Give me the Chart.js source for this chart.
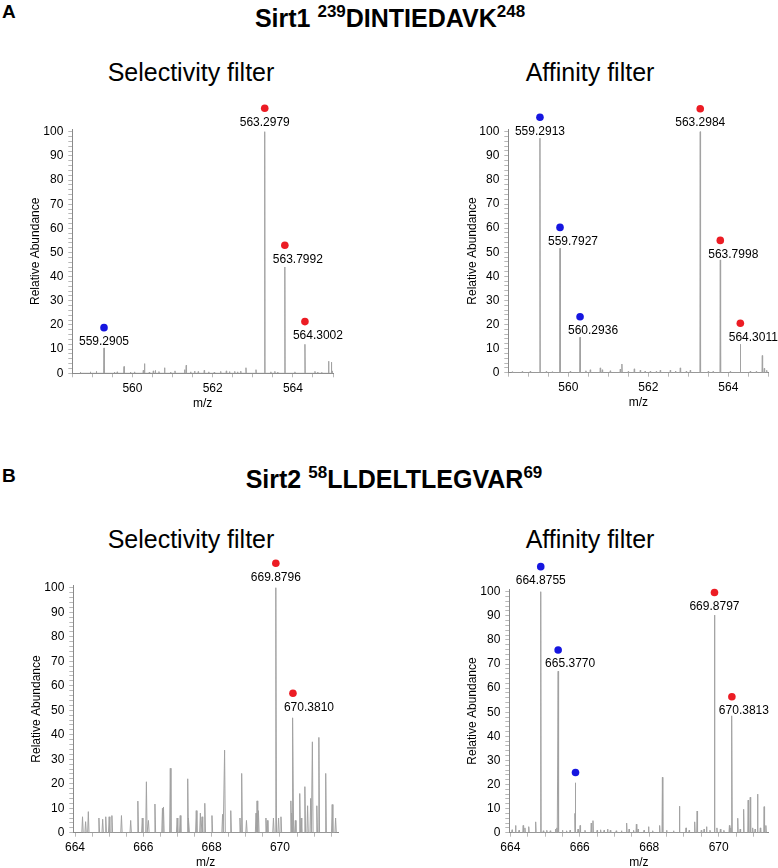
<!DOCTYPE html>
<html>
<head>
<meta charset="utf-8">
<script src="https://cdn.jsdelivr.net/npm/chart.js@4.4.0/dist/chart.umd.min.js"></script>
<style>
  html, body { margin:0; padding:0; background:#fff; overflow:hidden; }
  body { width:778px; height:868px; position:relative; font-family:"Liberation Sans", Arial, sans-serif; color:#000; }
  .txt { position:absolute; line-height:1; white-space:nowrap; }
  .letter { font-weight:bold; font-size:19px; }
  .peptide { font-weight:bold; font-size:25px; left:0; width:778px; text-align:center; }
  .peptide span { font-size:17px; position:relative; top:-10px; }
  .sub { font-size:25px; width:300px; text-align:center; }
  canvas { position:absolute; }
</style>
</head>
<body>
<div class="txt letter" style="left:2px;top:2px">A</div>
<div class="txt peptide" style="top:6px;left:1px">Sirt1 <span>239</span>DINTIEDAVK<span>248</span></div>
<div class="txt sub" style="left:41px;top:60px">Selectivity filter</div>
<div class="txt sub" style="left:440px;top:60px">Affinity filter</div>

<div class="txt letter" style="left:2px;top:466px">B</div>
<div class="txt peptide" style="top:467px;left:5px">Sirt2 <span>58</span>LLDELTLEGVAR<span>69</span></div>
<div class="txt sub" style="left:41px;top:527px">Selectivity filter</div>
<div class="txt sub" style="left:440px;top:527px">Affinity filter</div>

<canvas id="a-sel"></canvas>
<canvas id="a-aff"></canvas>
<canvas id="b-sel"></canvas>
<canvas id="b-aff"></canvas>

<script>
/* ── DATA ── */
// shared axis labels
const yLabels  = [0, 10, 20, 30, 40, 50, 60, 70, 80, 90, 100];
const xLabelsA = [560, 562, 564];
const xLabelsB = [664, 666, 668, 670];

// Sirt1 239DINTIEDAVK248 – selectivity filter
const sirt1SelMz = [558.70, 558.95, 559.10, 559.2905, 559.55, 559.62, 559.79, 559.95, 560.05, 560.27,
  560.30, 560.42, 560.52, 560.57, 560.66, 560.80, 560.95, 561.06, 561.30, 561.34, 561.45, 561.55,
  561.64, 561.79, 561.90, 562.04, 562.20, 562.34, 562.42, 562.55, 562.62, 562.70, 562.83, 563.08,
  563.2979, 563.45, 563.55, 563.62, 563.7992, 564.05, 564.3002, 564.55, 564.62, 564.72, 564.89,
  564.96, 564.99];
const sirt1SelInt = [0.4, 0.6, 0.8, 10.5, 0.5, 0.6, 2.8, 0.5, 0.6, 1.2,
  4.0, 0.5, 1.0, 1.2, 0.7, 2.3, 0.5, 1.0, 1.5, 3.3, 0.6, 0.9,
  0.7, 1.2, 0.6, 0.5, 0.8, 1.0, 0.7, 0.8, 0.6, 0.9, 2.3, 1.5,
  100, 0.6, 0.8, 0.5, 44.0, 0.6, 12.0, 0.8, 0.5, 0.4, 5.0,
  4.6, 1.0];
const sirt1SelTagMz    = [559.2905, 563.2979, 563.7992, 564.3002];
const sirt1SelTagY     = [18.9, 109.7, 53.0, 21.4];
const sirt1SelTagKind  = ['light', 'heavy', 'heavy', 'heavy'];
const sirt1SelTagLabel = ['559.2905', '563.2979', '563.7992', '564.3002'];

// Sirt1 239DINTIEDAVK248 – affinity filter
const sirt1AffMz = [558.60, 558.85, 559.05, 559.2913, 559.45, 559.60, 559.7927, 560.05, 560.2936, 560.44,
  560.55, 560.80, 560.85, 561.05, 561.30, 561.34, 561.50, 561.65, 561.80, 561.92, 562.05, 562.20,
  562.30, 562.55, 562.68, 562.80, 562.95, 563.05, 563.2984, 563.50, 563.62, 563.7998, 564.05,
  564.3011, 564.55, 564.70, 564.85, 564.90, 564.96];
const sirt1AffInt = [0.4, 0.5, 0.6, 97.3, 0.5, 0.4, 51.6, 0.6, 14.7, 0.8,
  1.2, 2.0, 1.2, 0.8, 1.5, 3.6, 0.5, 1.6, 1.0, 0.6, 0.6, 0.5,
  1.0, 1.0, 0.7, 2.0, 0.6, 1.0, 100, 0.6, 0.5, 46.8, 0.5,
  11.8, 0.6, 0.5, 7.1, 1.8, 1.0];
const sirt1AffTagMz    = [559.2913, 559.7927, 560.2936, 563.2984, 563.7998, 564.3011];
const sirt1AffTagY     = [106.0, 60.3, 23.2, 109.5, 54.9, 20.5];
const sirt1AffTagKind  = ['light', 'light', 'light', 'heavy', 'heavy', 'heavy'];
const sirt1AffTagLabel = ['559.2913', '559.7927', '560.2936', '563.2984', '563.7998', '564.3011'];

// Sirt2 58LLDELTLEGVAR69 – selectivity filter
const sirt2SelMz = [664.22, 664.31, 664.39, 664.70, 664.81, 664.90, 665.00, 665.08, 665.36, 665.63,
  665.84, 665.97, 666.09, 666.15, 666.34, 666.56, 666.59, 666.79, 666.99, 667.08, 667.30, 667.33,
  667.55, 667.67, 667.72, 667.80, 668.01, 668.32, 668.38, 668.56, 668.83, 668.88, 669.02, 669.30,
  669.33, 669.37, 669.59, 669.63, 669.81, 669.8796, 669.96, 670.03, 670.32, 670.35, 670.3810,
  670.45, 670.58, 670.62, 670.73, 670.81, 670.90, 670.95, 671.08, 671.14, 671.34, 671.53, 671.63];
const sirt2SelInt = [6.5, 4.5, 8.6, 6.0, 5.5, 6.5, 6.5, 7.0, 7.0, 5.0,
  12.9, 6.0, 20.8, 5.0, 11.7, 10.0, 10.5, 26.3, 6.0, 7.0, 22.0, 6.0,
  9.0, 8.0, 6.5, 12.0, 7.0, 7.5, 33.7, 9.0, 6.0, 24.2, 5.0, 8.0,
  13.0, 9.0, 6.0, 5.0, 6.0, 100, 6.0, 6.5, 13.0, 8.0, 46.9,
  5.0, 16.0, 6.0, 18.8, 11.0, 14.0, 37.1, 11.0, 38.9, 24.2, 11.5, 6.0];
const sirt2SelTagMz    = [669.8796, 670.3810];
const sirt2SelTagY     = [110.0, 56.9];
const sirt2SelTagKind  = ['heavy', 'heavy'];
const sirt2SelTagLabel = ['669.8796', '670.3810'];

// Sirt2 58LLDELTLEGVAR69 – affinity filter
const sirt2AffMz = [664.05, 664.15, 664.25, 664.37, 664.42, 664.53, 664.73, 664.8755, 664.95, 665.05,
  665.15, 665.30, 665.34, 665.3770, 665.50, 665.62, 665.72, 665.86, 665.877, 665.95, 666.01, 666.15,
  666.33, 666.38, 666.50, 666.60, 666.70, 666.80, 666.88, 667.05, 667.20, 667.35, 667.42, 667.55,
  667.63, 667.68, 667.85, 667.98, 668.10, 668.30, 668.38, 668.50, 668.70, 668.87, 669.06, 669.15,
  669.31, 669.38, 669.50, 669.58, 669.65, 669.75, 669.8797, 669.95, 670.05, 670.15, 670.31, 670.35,
  670.3813, 670.55, 670.62, 670.72, 670.85, 670.91, 670.98, 671.05, 671.12, 671.20, 671.31, 671.36];
const sirt2AffInt = [1.2, 3.0, 1.0, 3.0, 2.0, 2.5, 4.5, 100, 0.8, 1.0,
  0.8, 1.5, 2.0, 67.0, 1.0, 0.8, 1.0, 8.0, 20.7, 1.5, 3.0, 1.0,
  4.0, 5.0, 1.0, 1.2, 1.0, 1.5, 1.0, 0.8, 0.8, 4.0, 1.5, 1.0,
  3.5, 1.5, 1.0, 2.5, 0.8, 3.0, 23.0, 1.0, 0.8, 11.0, 2.0, 1.0,
  4.5, 9.0, 1.0, 1.5, 2.5, 1.0, 90.3, 2.0, 1.5, 1.0, 3.0, 2.0,
  48.5, 6.0, 1.5, 9.7, 13.5, 14.7, 2.0, 1.5, 16.0, 2.0, 10.8, 3.0];
const sirt2AffTagMz    = [664.8755, 665.3770, 665.877, 669.8797, 670.3813];
const sirt2AffTagY     = [110.4, 75.8, 25.0, 99.7, 56.4];
const sirt2AffTagKind  = ['light', 'light', 'light', 'heavy', 'heavy'];
const sirt2AffTagLabel = ['664.8755', '665.3770', '', '669.8797', '670.3813'];

/* ── LOOK ── */
const FONT = '"Liberation Sans", Arial, sans-serif';
const dotColor = { light: '#1616e0', heavy: '#ec1c24' };
const peakColor = '#a2a2a2';
const axisColor = '#8a8a8a';
const tickColor = '#b8b8b8';

Chart.defaults.font.family = FONT;
Chart.defaults.color = '#000';

// the marker dots sit above the 100% line, i.e. outside the plot area;
// point elements skip anything outside chartArea, so open it up while they draw
let savedTop = 0;
const dotsAbove = {
  id: 'dotsAbove',
  beforeDatasetDraw(chart, args) {
    if (args.index !== 1) return;
    savedTop = chart.chartArea.top;
    chart.chartArea.top = 0;
  },
  afterDatasetDraw(chart, args) {
    if (args.index !== 1) return;
    chart.chartArea.top = savedTop;
  }
};

// label above each marked peak, drawn just under its dot
const tagLabels = {
  id: 'tagLabels',
  afterDatasetsDraw(chart, args, opts) {
    const { ctx, scales: { x, y } } = chart;
    ctx.save();
    ctx.font = '12px ' + FONT;
    ctx.fillStyle = '#000';
    ctx.textAlign = 'center';
    ctx.textBaseline = 'middle';
    opts.mz.forEach((m, i) => {
      if (!opts.text[i]) return;
      ctx.fillText(opts.text[i], x.getPixelForValue(m) + opts.shift[i], y.getPixelForValue(opts.y[i]) + 14);
    });
    ctx.restore();
  }
};

// each centroid drawn as a narrow profile peak
function profile(mz, inten, half) {
  const pts = [];
  mz.forEach((m, i) => {
    pts.push({ x: m - half, y: 0 }, { x: m, y: inten[i] }, { x: m + half, y: 0 });
  });
  return pts;
}

function drawPanel(p) {
  const cv = document.getElementById(p.id);
  cv.width = p.box.w; cv.height = p.box.h;
  cv.style.left = p.box.x + 'px'; cv.style.top = p.box.y + 'px';

  new Chart(cv, {
    type: 'scatter',
    data: {
      datasets: [
        {
          data: profile(p.mz, p.int, p.half),
          showLine: true, borderColor: peakColor, borderWidth: 1,
          pointRadius: 0, tension: 0
        },
        {
          data: p.tagMz.map((m, i) => ({ x: m, y: p.tagY[i] })),
          pointRadius: 3.8, pointBorderWidth: 0,
          pointBackgroundColor: p.tagKind.map(k => dotColor[k]),
          clip: false
        }
      ]
    },
    options: {
      responsive: false, devicePixelRatio: 1, animation: false,
      layout: { padding: { top: p.area.t - p.box.y, right: p.box.x + p.box.w - p.area.r, left: 0, bottom: 0 } },
      plugins: {
        legend: { display: false }, tooltip: { enabled: false },
        tagLabels: { mz: p.tagMz, y: p.tagY, text: p.tagLabel, shift: p.shift }
      },
      scales: {
        x: {
          type: 'linear', min: p.xMin, max: p.xMax,
          border: { color: axisColor },
          grid: { drawOnChartArea: false, tickLength: 4, tickColor: tickColor },
          ticks: {
            stepSize: 0.5, includeBounds: false, autoSkip: false, maxRotation: 0, padding: 4,
            font: { size: 12 }, color: '#000',
            callback: v => p.xLabels.includes(v) ? String(v) : ''
          },
          title: { display: true, text: 'm/z', font: { size: 12 }, color: '#000',
                   padding: { top: 0, bottom: p.box.y + p.box.h - p.mzTitleY - 7.2 } },
          afterFit: s => { s.height = p.box.y + p.box.h - p.area.b; }
        },
        y: {
          min: 0, max: 101,
          border: { color: axisColor },
          grid: { drawOnChartArea: false, tickLength: 4, tickColor: tickColor },
          ticks: {
            stepSize: 2, includeBounds: false, autoSkip: false, padding: 5,
            font: { size: 12 }, color: '#000',
            callback: v => yLabels.includes(v) ? String(v) : ''
          },
          title: { display: true, text: 'Relative Abundance', font: { size: 12 }, color: '#000',
                   padding: { top: 8.5, bottom: 0 } },
          afterFit: s => { s.width = p.area.l - p.box.x; }
        }
      }
    },
    plugins: [dotsAbove, tagLabels]
  });
}

/* ── PANELS ── */
drawPanel({
  id: 'a-sel', box: { x: 20, y: 95, w: 330, h: 320 }, area: { l: 72.3, r: 333, t: 129.3, b: 373.3 },
  xMin: 558.5, xMax: 565.0, xLabels: xLabelsA, mzTitleY: 403.3, half: 0.008,
  mz: sirt1SelMz, int: sirt1SelInt,
  tagMz: sirt1SelTagMz, tagY: sirt1SelTagY, tagKind: sirt1SelTagKind, tagLabel: sirt1SelTagLabel,
  shift: [0, 0, 13, 13]
});
drawPanel({
  id: 'a-aff', box: { x: 457, y: 95, w: 321, h: 320 }, area: { l: 508.3, r: 768.3, t: 129.3, b: 372.7 },
  xMin: 558.5, xMax: 565.0, xLabels: xLabelsA, mzTitleY: 402.5, half: 0.008,
  mz: sirt1AffMz, int: sirt1AffInt,
  tagMz: sirt1AffTagMz, tagY: sirt1AffTagY, tagKind: sirt1AffTagKind, tagLabel: sirt1AffTagLabel,
  shift: [0, 13, 13, 0, 13, 13]
});
drawPanel({
  id: 'b-sel', box: { x: 21, y: 550, w: 330, h: 330 }, area: { l: 73.3, r: 338, t: 585.3, b: 832.7 },
  xMin: 663.95, xMax: 671.7, xLabels: xLabelsB, mzTitleY: 863, half: 0.02,
  mz: sirt2SelMz, int: sirt2SelInt,
  tagMz: sirt2SelTagMz, tagY: sirt2SelTagY, tagKind: sirt2SelTagKind, tagLabel: sirt2SelTagLabel,
  shift: [0, 16]
});
drawPanel({
  id: 'b-aff', box: { x: 457, y: 550, w: 321, h: 330 }, area: { l: 509.3, r: 768.3, t: 589.3, b: 832.7 },
  xMin: 663.97, xMax: 671.43, xLabels: xLabelsB, mzTitleY: 863, half: 0.012,
  mz: sirt2AffMz, int: sirt2AffInt,
  tagMz: sirt2AffTagMz, tagY: sirt2AffTagY, tagKind: sirt2AffTagKind, tagLabel: sirt2AffTagLabel,
  shift: [0, 12, 0, 0, 12]
});
</script>
</body>
</html>
